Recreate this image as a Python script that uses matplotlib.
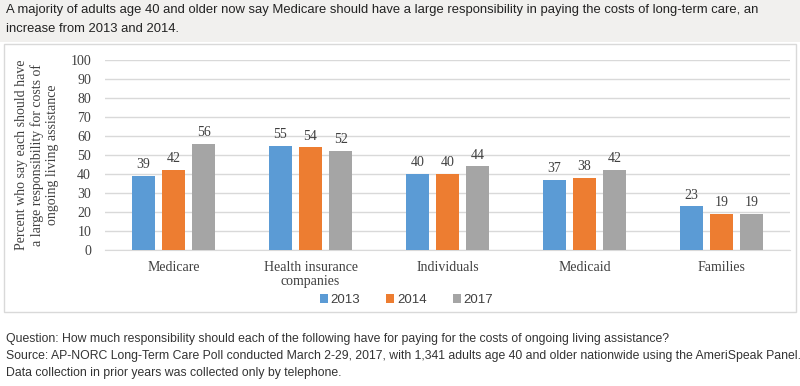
import numpy as np
import matplotlib.pyplot as plt
from matplotlib.patches import Rectangle

# data
categories = ['Medicare', 'Health insurance\ncompanies', 'Individuals', 'Medicaid', 'Families']
years = ['2013', '2014', '2017']
v2013 = [39, 55, 40, 37, 23]
v2014 = [42, 54, 40, 38, 19]
v2017 = [56, 52, 44, 42, 19]
colors = ['#5b9bd5', '#ed7d31', '#a5a5a5']

title = ('A majority of adults age 40 and older now say Medicare should have a large responsibility in paying the costs of long-term care, an\n'
         'increase from 2013 and 2014.')
notes = ['Question: How much responsibility should each of the following have for paying for the costs of ongoing living assistance?',
         'Source: AP-NORC Long-Term Care Poll conducted March 2-29, 2017, with 1,341 adults age 40 and older nationwide using the AmeriSpeak Panel.',
         'Data collection in prior years was collected only by telephone.']

serif = ['Liberation Serif', 'DejaVu Serif']
narrow = ['Liberation Sans Narrow', 'Liberation Sans', 'DejaVu Sans']

fig = plt.figure(figsize=(8, 3.86), dpi=100)
fig.patch.set_facecolor('white')

# title band and chart frame (behind the axes)
fig.patches.append(Rectangle((0, 1 - 42/386), 1, 42/386, transform=fig.transFigure,
                             facecolor='#f1f0ee', edgecolor='none', zorder=-2))
fig.patches.append(Rectangle((4/800, 1 - 312/386), 792/800, 268/386, transform=fig.transFigure,
                             facecolor='white', edgecolor='#d9d9d9', lw=1, zorder=-1))
fig.text(6/800, 1 - 10/386, title.split('\n')[0], ha='left', va='center', fontsize=9.4,
         family=narrow, color='#222222')
fig.text(6/800, 1 - 29/386, title.split('\n')[1], ha='left', va='center', fontsize=9.4,
         family=narrow, color='#222222')

ax = fig.add_axes([105/800, 1 - 250/386, 685/800, 190/386])
ax.set_facecolor('none')
x = np.arange(len(categories))
w = 0.17
step = 0.22
for k, (vals, yr) in enumerate(zip([v2013, v2014, v2017], years)):
    bars = ax.bar(x + (k - 1) * step, vals, w, color=colors[k], label=yr, zorder=3)
    for b, v in zip(bars, vals):
        ax.text(b.get_x() + b.get_width() / 2, v + 2.5, str(v), ha='center', va='bottom',
                fontsize=10, family=serif, color='#404040')

ax.set_xlim(-0.5, len(categories) - 0.5)
ax.set_ylim(0, 100)
ax.set_yticks(range(0, 101, 10))
ax.yaxis.grid(True, color='#d9d9d9', lw=1, zorder=0)
ax.set_xticks(x)
ax.set_xticklabels(categories, family=serif, fontsize=10, color='#404040', linespacing=1.1)
for lab in ax.get_yticklabels():
    lab.set_family(serif)
    lab.set_fontsize(10)
    lab.set_color('#404040')
ax.tick_params(length=0, pad=8)
ax.tick_params(axis='y', pad=10)
for s in ax.spines.values():
    s.set_visible(False)
ax.spines['bottom'].set_visible(True)
ax.spines['bottom'].set_color('#d9d9d9')
ax.set_ylabel('Percent who say each should have\na large responsibility for costs of\nongoing living assistance',
              family=serif, fontsize=10, color='#404040', linespacing=1.2, labelpad=8)

leg = ax.legend(loc='upper center', bbox_to_anchor=(0.44, -0.17), ncol=3, frameon=False,
                prop={'family': narrow, 'size': 9.5}, handlelength=0.6, handleheight=0.6,
                handletextpad=0.2, columnspacing=2.0)
for t in leg.get_texts():
    t.set_color('#404040')

for i, n in enumerate(notes):
    fig.text(6/800, 1 - (339 + 17 * i)/386, n, ha='left', va='center', fontsize=8.8,
             family=narrow, color='#333333')

fig.savefig('out.png', dpi=100, facecolor='white')
